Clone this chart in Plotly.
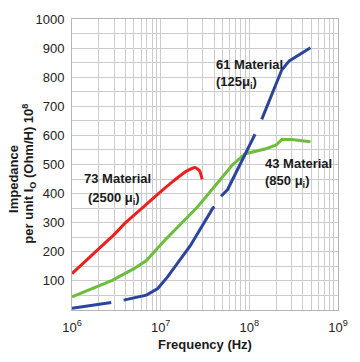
import plotly.graph_objects as go

# ---- data ----
red_freq = [1e6, 2e6, 3e6, 4.02e6, 6e6, 9.3e6, 1.3e7, 1.98e7, 2.44e7, 2.75e7, 2.94e7]
red_imp = [125, 210, 260, 300, 347, 398, 436, 478, 490, 478, 449]

green_freq = [1e6, 2.84e6, 5e6, 6.9e6, 1.1e7, 2.55e7, 4.23e7, 6.5e7, 9.04e7, 1.5e8, 2.01e8, 2.32e8, 3e8, 4.89e8]
green_imp = [45, 102, 142, 170, 238, 351, 431, 500, 537, 553, 567, 586, 586, 578]

blue_freq = [1e6, 2.77e6, None, 3.82e6, 6.9e6, 9.27e6, 1.19e7, 2.15e7, 3.89e7, 4.05e7, None,
             4.8e7, 5.69e7, 1.16e8, None, 1.38e8, 2.32e8, 2.82e8, 4.89e8]
blue_imp = [6, 26, None, 34, 51, 74, 113, 220, 351, 354, None,
            391, 414, 604, None, 655, 825, 856, 901]

decades = [1e6, 1e7, 1e8, 1e9]
decade_labels = ["10<sup>6</sup>", "10<sup>7</sup>", "10<sup>8</sup>", "10<sup>9</sup>"]
y_labels = [100, 200, 300, 400, 500, 600, 700, 800, 900, 1000]

# ---- minor gridline positions ----
x_minor = [d * m for d in decades[:-1] for m in range(2, 10)]
y_minor = list(range(50, 1000, 100))

RED = "#e8231f"
GREEN = "#6cbd3c"
BLUE = "#2b459c"
TXT = "#1a1a1a"
GRID = "#cccccc"

fig = go.Figure()
fig.add_trace(go.Scatter(x=red_freq, y=red_imp, mode="lines",
                         line=dict(color=RED, width=3, shape="spline", smoothing=0.4)))
fig.add_trace(go.Scatter(x=green_freq, y=green_imp, mode="lines",
                         line=dict(color=GREEN, width=3)))
fig.add_trace(go.Scatter(x=blue_freq, y=blue_imp, mode="lines", connectgaps=False,
                         line=dict(color=BLUE, width=3)))

font_b = dict(family="Liberation Sans, Arial, sans-serif", size=13, color=TXT)
ann = [
    dict(x=6.511, y=452, text="<b>73 Material</b>", xanchor="center"),
    dict(x=6.473, y=384, text="<b>(2500 μ<sub>i</sub>)</b>", xanchor="center"),
    dict(x=7.604, y=843, text="<b>61 Material</b>", xanchor="left"),
    dict(x=7.604, y=782, text="<b>(125μ<sub>i</sub>)</b>", xanchor="left"),
    dict(x=8.154, y=503, text="<b>43 Material</b>", xanchor="left"),
    dict(x=8.154, y=442, text="<b>(850 μ<sub>i</sub>)</b>", xanchor="left"),
]
for a in ann:
    fig.add_annotation(xref="x", yref="y", showarrow=False, yanchor="middle", font=font_b, **a)

fig.add_annotation(xref="paper", yref="paper", x=-0.22, y=0.452, text="<b>Impedance</b>",
                   textangle=-90, showarrow=False, font=font_b, xanchor="center", yanchor="middle")
fig.add_annotation(xref="paper", yref="paper", x=-0.165, y=0.469,
                   text="<b>per unit I<sub>O</sub> (Ohm/H) 10<sup>8</sup></b>",
                   textangle=-90, showarrow=False, font=font_b, xanchor="center", yanchor="middle")

fig.update_layout(
    width=360, height=362,
    margin=dict(l=72, r=15, t=16, b=52),
    paper_bgcolor="white", plot_bgcolor="white",
    showlegend=False,
    font=dict(family="Liberation Sans, Arial, sans-serif", size=13, color="#222"),
    xaxis=dict(type="log", range=[6, 9], tickvals=decades, ticktext=decade_labels, tickangle=0,
               tickfont=dict(size=13, color="#222"),
               showgrid=True, gridcolor=GRID, gridwidth=1,
               minor=dict(tickvals=x_minor, showgrid=True, gridcolor=GRID, gridwidth=1, ticks=""),
               showline=True, linecolor="#b5b5b5", mirror=True,
               ticks="outside", ticklen=5, tickcolor="rgba(0,0,0,0)",
               zeroline=False,
               title=dict(text="<b>Frequency (Hz)</b>", font=dict(size=13, color=TXT), standoff=6)),
    yaxis=dict(range=[0, 1000], tickvals=y_labels,
               tickfont=dict(size=13, color="#222"),
               showgrid=True, gridcolor=GRID, gridwidth=1,
               minor=dict(tickvals=y_minor, showgrid=True, gridcolor=GRID, gridwidth=1, ticks=""),
               showline=True, linecolor="#b5b5b5", mirror=True,
               ticks="outside", ticklen=4, tickcolor="rgba(0,0,0,0)",
               zeroline=False),
)

# remove the default 8px page margin so the figure sits at the window's top-left
fig.write_html("out.html", config={"displayModeBar": False},
               post_script="document.body.style.margin='0';")
